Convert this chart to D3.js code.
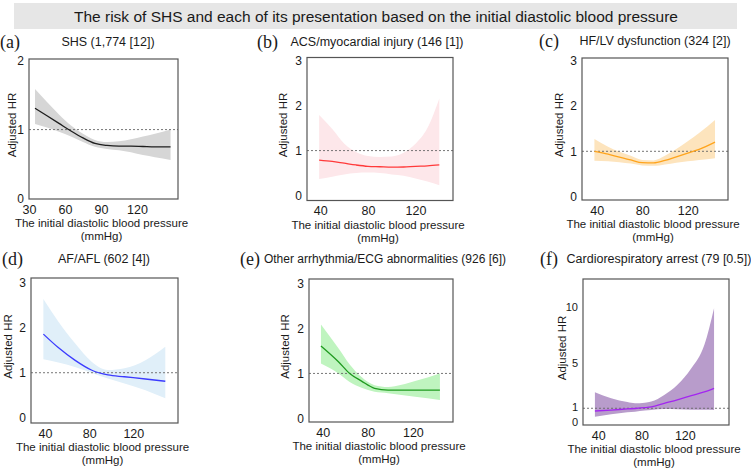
<!DOCTYPE html>
<html>
<head>
<meta charset="utf-8">
<script src="https://cdn.jsdelivr.net/npm/d3@7/dist/d3.min.js"></script>
<style>
  body { margin: 0; background: #fff; }
  svg text { font-family: "Liberation Sans", Arial, sans-serif; fill: #1a1a1a; }
</style>
</head>
<body>
<div id="chart"></div>
<script>
const svgWidth = 751;
const svgHeight = 468;

const chartTitle = "The risk of SHS and each of its presentation based on the initial diastolic blood pressure";
const xLabel = ["The initial diastolic blood pressure", "(mmHg)"];
const yLabel = "Adjusted HR";

const panelLetters = ["(a)", "(b)", "(c)", "(d)", "(e)", "(f)"];
const panelTitles = [
  "SHS (1,774 [12])",
  "ACS/myocardial injury (146 [1])",
  "HF/LV dysfunction (324 [2])",
  "AF/AFL (602 [4])",
  "Other arrhythmia/ECG abnormalities (926 [6])",
  "Cardiorespiratory arrest (79 [0.5])"
];

// (a) SHS
const shsDbp = [35, 45, 55, 65, 75, 85, 95, 105, 115, 125, 135, 148];
const shsHr  = [1.31, 1.20, 1.09, 0.98, 0.88, 0.80, 0.77, 0.76, 0.76, 0.755, 0.75, 0.75];
const shsLo  = [1.08, 1.03, 0.97, 0.90, 0.82, 0.75, 0.72, 0.70, 0.67, 0.63, 0.60, 0.56];
const shsHi  = [1.59, 1.40, 1.22, 1.06, 0.94, 0.85, 0.82, 0.83, 0.86, 0.90, 0.94, 1.00];

// (b) ACS/myocardial injury
const acsDbp = [39, 50, 60, 70, 80, 90, 100, 110, 120, 130, 140];
const acsHr  = [0.79, 0.76, 0.72, 0.68, 0.65, 0.64, 0.63, 0.635, 0.65, 0.66, 0.68];
const acsLo  = [0.37, 0.42, 0.47, 0.50, 0.51, 0.50, 0.47, 0.44, 0.38, 0.31, 0.23];
const acsHi  = [1.79, 1.48, 1.16, 0.97, 0.88, 0.86, 0.87, 0.95, 1.15, 1.50, 2.16];

// (c) HF/LV dysfunction
const hfDbp = [38, 50, 60, 70, 80, 90, 100, 110, 120, 130, 144];
const hfHr  = [1.00, 0.94, 0.87, 0.81, 0.75, 0.745, 0.80, 0.88, 0.96, 1.04, 1.20];
const hfLo  = [0.79, 0.78, 0.76, 0.73, 0.69, 0.68, 0.71, 0.75, 0.78, 0.81, 0.85];
const hfHi  = [1.27, 1.10, 0.99, 0.90, 0.81, 0.80, 0.90, 1.05, 1.22, 1.40, 1.69];

// (d) AF/AFL
const afDbp = [38.5, 52, 67, 82, 97, 112, 131, 149];
const afHr  = [1.86, 1.56, 1.28, 1.06, 0.95, 0.91, 0.86, 0.81];
const afLo  = [1.30, 1.23, 1.13, 1.00, 0.87, 0.76, 0.61, 0.43];
const afHi  = [2.64, 2.14, 1.66, 1.25, 1.06, 1.10, 1.28, 1.58];

// (e) Other arrhythmia/ECG abnormalities
const ecgDbp = [38.5, 54, 64, 74.5, 86, 98, 122, 144];
const ecgHr  = [1.61, 1.26, 1.00, 0.83, 0.67, 0.63, 0.63, 0.63];
const ecgLo  = [1.22, 1.00, 0.81, 0.68, 0.59, 0.56, 0.48, 0.41];
const ecgHi  = [2.09, 1.56, 1.20, 0.92, 0.74, 0.70, 0.83, 1.00];

// (f) Cardiorespiratory arrest
const craDbp = [37, 52, 67, 74, 83, 89, 101, 113, 126, 138, 147];
const craHr  = [0.76, 0.84, 0.94, 0.98, 1.05, 1.12, 1.44, 1.75, 2.12, 2.45, 2.77];
const craLo  = [0.26, 0.47, 0.65, 0.70, 0.80, 0.85, 0.94, 0.92, 0.88, 0.86, 0.85];
const craHi  = [2.42, 1.89, 1.55, 1.44, 1.50, 1.59, 2.18, 3.06, 4.54, 6.61, 9.86];

const xTicksA = [30, 60, 90, 120];
const xTicks = [40, 80, 120];
const yTicks3 = [0, 1, 2, 3];
const yTicksA = [0, 1, 2];
const yTicksF = [0, 1, 5, 10];

// layout per panel: frame box, domains at frame edges, colours
const panels = [
  {dbp: shsDbp, hr: shsHr, lo: shsLo, hi: shsHi, xt: xTicksA, yt: yTicksA,
   box: [29, 59, 178, 199], xd: [30, 154.2], yd: [-0.006, 2.023],
   fill: "#d6d6d6", line: "#1e1e1e", letter: [0, 48], title: [108, 46], ylab: 12},
  {dbp: acsDbp, hr: acsHr, lo: acsLo, hi: acsHi, xt: xTicks, yt: yTicks3,
   box: [307, 57.5, 453, 200.5], xd: [28.8, 151.5], yd: [-0.11, 3.07],
   fill: "#fde7ea", line: "#ff3a3a", letter: [257, 48], title: [377, 46], ylab: 283},
  {dbp: hfDbp, hr: hfHr, lo: hfLo, hi: hfHi, xt: xTicks, yt: yTicks3,
   box: [582, 58, 728, 200], xd: [27.1, 155.4], yd: [-0.07, 3.05],
   fill: "#fde4bd", line: "#ffa41c", letter: [539, 47], title: [655, 45], ylab: 559},
  {dbp: afDbp, hr: afHr, lo: afLo, hi: afHi, xt: xTicks, yt: yTicks3,
   box: [31, 278, 178, 423], xd: [27.3, 160.5], yd: [-0.12, 3.11],
   fill: "#e0eff9", line: "#3b3bff", letter: [2, 265], title: [104, 263], ylab: 8},
  {dbp: ecgDbp, hr: ecgHr, lo: ecgLo, hi: ecgHi, xt: xTicks, yt: yTicks3,
   box: [309, 279, 453, 422], xd: [27.9, 155.6], yd: [-0.08, 3.10],
   fill: "#bff4bf", line: "#1f9a1f", letter: [240, 265], title: [385, 263], ylab: 285},
  {dbp: craDbp, hr: craHr, lo: craLo, hi: craHi, xt: xTicks, yt: yTicksF,
   box: [583, 279, 729, 425], xd: [26.0, 160.8], yd: [-0.48, 12.44],
   fill: "#b89ccb", line: "#a326f0", letter: [540, 265], title: [659, 263], ylab: 562}
];

const svg = d3.select("#chart").append("svg")
  .attr("width", svgWidth)
  .attr("height", svgHeight);

// title bar
svg.append("rect")
  .attr("x", 14).attr("y", 3).attr("width", 723).attr("height", 26)
  .attr("fill", "#e6e6e6");
svg.append("text")
  .attr("x", 376).attr("y", 22)
  .attr("text-anchor", "middle")
  .style("font-size", "15.5px")
  .text(chartTitle);

panels.forEach((p, i) => {
  const [l, t, r, b] = p.box;
  const xScale = d3.scaleLinear().domain(p.xd).range([l, r]);
  const yScale = d3.scaleLinear().domain(p.yd).range([b, t]);
  const rows = p.dbp.map((d, k) => ({x: d, y: p.hr[k], lo: p.lo[k], hi: p.hi[k]}));

  const g = svg.append("g");

  const band = d3.area()
    .x(d => xScale(d.x))
    .y0(d => yScale(d.lo))
    .y1(d => yScale(d.hi))
    .curve(d3.curveMonotoneX);
  g.append("path").datum(rows)
    .attr("d", band)
    .attr("fill", p.fill);

  // reference line at HR = 1
  g.append("line")
    .attr("x1", l).attr("x2", r)
    .attr("y1", yScale(1)).attr("y2", yScale(1))
    .attr("stroke", "#666").attr("stroke-width", 0.9)
    .attr("stroke-dasharray", "2,2");

  const line = d3.line()
    .x(d => xScale(d.x))
    .y(d => yScale(d.y))
    .curve(d3.curveMonotoneX);
  g.append("path").datum(rows)
    .attr("d", line)
    .attr("fill", "none")
    .attr("stroke", p.line)
    .attr("stroke-width", 1.3);

  g.append("rect")
    .attr("x", l).attr("y", t).attr("width", r - l).attr("height", b - t)
    .attr("fill", "none").attr("stroke", "#555").attr("stroke-width", 1.2);

  const xAxis = g.append("g")
    .attr("transform", `translate(0, ${b})`)
    .call(d3.axisBottom(xScale).tickValues(p.xt).tickFormat(d3.format("d")).tickSize(0).tickPadding(6));
  xAxis.select(".domain").remove();
  xAxis.selectAll("text").style("font-size", "12.5px").attr("fill", "#1a1a1a");

  const yAxis = g.append("g")
    .attr("transform", `translate(${l}, 0)`)
    .call(d3.axisLeft(yScale).tickValues(p.yt).tickFormat(d3.format("d")).tickSize(0).tickPadding(5));
  yAxis.select(".domain").remove();
  yAxis.selectAll("text").style("font-size", "12px").attr("fill", "#1a1a1a");
  // (f): 0 and 1 sit close together, spread them a little like the original
  if (i === 5) {
    yAxis.selectAll(".tick text")
      .style("font-size", "11px")
      .attr("dy", d => d === 0 ? "0.55em" : d === 1 ? "0.2em" : "0.32em");
  }

  const cx = (l + r) / 2 - 2;
  g.append("text")
    .attr("x", cx).attr("y", b + 28)
    .attr("text-anchor", "middle")
    .style("font-size", "11.5px")
    .text(xLabel[0]);
  g.append("text")
    .attr("x", cx).attr("y", b + 41)
    .attr("text-anchor", "middle")
    .style("font-size", "11.5px")
    .text(xLabel[1]);

  g.append("text")
    .attr("transform", `translate(${p.ylab + 4}, ${(t + b) / 2 - 4}) rotate(-90)`)
    .attr("text-anchor", "middle")
    .style("font-size", "11.5px")
    .text(yLabel);

  g.append("text")
    .attr("x", p.letter[0]).attr("y", p.letter[1])
    .style("font-family", "'Liberation Serif', 'Times New Roman', serif")
    .style("font-size", "18px")
    .text(panelLetters[i]);

  g.append("text")
    .attr("x", p.title[0]).attr("y", p.title[1])
    .attr("text-anchor", "middle")
    .style("font-size", i === 4 ? "12px" : "12.5px")
    .text(panelTitles[i]);
});
</script>
</body>
</html>
